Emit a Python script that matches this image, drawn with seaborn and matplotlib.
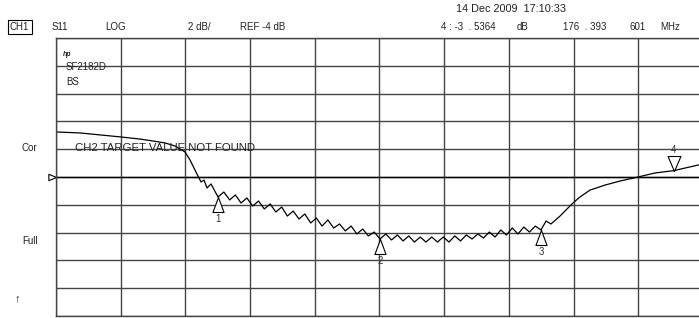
import matplotlib
matplotlib.use("Agg")
import matplotlib.pyplot as plt
import seaborn as sns
import pandas as pd
import numpy as np

# Trace (MHz, dB)
freq_mhz = [128.64, 130.49, 133.66, 135.13, 136.14, 137.06, 137.84, 138.61, 139.00, 139.38,
            139.61, 139.85, 140.08, 140.31, 140.62, 141.16, 141.61, 142.06, 142.50, 142.94,
            143.39, 143.84, 144.29, 144.74, 145.19, 145.63, 146.08, 146.52, 146.97, 147.42,
            147.87, 148.32, 148.76, 149.20, 149.65, 150.10, 150.55, 151.00, 151.45, 151.89,
            152.34, 152.78, 153.23, 153.68, 154.13, 154.57, 155.02, 155.46, 155.90, 156.34,
            156.79, 157.23, 157.68, 158.12, 158.57, 159.01, 159.46, 159.90, 160.35, 160.79,
            161.24, 161.68, 162.13, 162.57, 163.01, 163.45, 163.90, 164.34, 164.79, 165.23,
            165.68, 166.12, 166.51, 166.89, 167.59, 168.59, 169.13, 169.91, 171.07, 172.23,
            173.62, 174.93, 176.39, 178.64]
s11_db = [-0.76, -0.83, -1.12, -1.27, -1.41, -1.55, -1.77, -2.20, -2.78, -3.50,
          -3.93, -4.36, -4.22, -4.79, -4.50, -5.44, -5.08, -5.65, -5.29, -5.87,
          -5.51, -6.09, -5.73, -6.30, -5.94, -6.52, -6.16, -6.81, -6.45, -7.02,
          -6.66, -7.31, -6.95, -7.53, -7.09, -7.67, -7.38, -7.88, -7.53, -8.10,
          -7.74, -8.24, -7.96, -8.46, -8.10, -8.53, -8.17, -8.60, -8.24, -8.68,
          -8.32, -8.68, -8.32, -8.68, -8.32, -8.68, -8.24, -8.60, -8.17, -8.46,
          -8.10, -8.39, -7.96, -8.32, -7.81, -8.17, -7.67, -8.10, -7.60, -7.96,
          -7.53, -7.81, -7.17, -7.38, -6.81, -5.87, -5.44, -4.94, -4.58, -4.29,
          -4.00, -3.71, -3.54, -3.06]

marker_ids = ["1", "2", "3", "4"]
marker_freq = [141.16, 153.68, 166.12, 176.393601]
marker_db = [-5.44, -8.46, -7.81, -3.5364]

ref_db = -4
db_per_div = 2
f_start, f_stop = 128.64, 178.64

df = pd.DataFrame({"freq": freq_mhz, "db": s11_db})

sns.set_theme(style="white")
plt.rcParams["font.family"] = ["Liberation Sans", "DejaVu Sans"]

W, H = 699, 318
fig = plt.figure(figsize=(W / 100, H / 100), dpi=100)
ax = fig.add_axes([56 / W, 2 / H, 647 / W, 278 / H])

sns.lineplot(data=df, x="freq", y="db", ax=ax, color="black", lw=0.9,
             sort=False, estimator=None)

ax.set_xlim(f_start, f_stop)
ax.set_ylim(ref_db - 5 * db_per_div, ref_db + 5 * db_per_div)
ax.set_xticks(np.linspace(f_start, f_stop, 11))
ax.set_yticks(np.arange(ref_db - 10, ref_db + 11, db_per_div))
ax.grid(True, color="#444444", lw=1.0)
ax.tick_params(length=0, labelbottom=False, labelleft=False)
ax.set_xlabel("")
ax.set_ylabel("")
for sp in ax.spines.values():
    sp.set_color("#444444")
    sp.set_linewidth(1.0)
ax.axhline(ref_db, color="black", lw=1.0)

# marker triangles: apex on the trace
up_tri = [(0, 0), (-0.37, -1), (0.37, -1), (0, 0)]
down_tri = [(0, 0), (-0.43, 1), (0.43, 1), (0, 0)]
for mid, mf, md in zip(marker_ids, marker_freq, marker_db):
    if mid == "4":
        ax.plot(mf, md, marker=down_tri, ms=21.6, mfc="white", mec="black", mew=0.8)
        ax.annotate(mid, (mf, md), xytext=(0, 15), textcoords="offset points",
                    ha="center", va="center", fontsize=7, color="#333333")
    else:
        ax.plot(mf, md, marker=up_tri, ms=21.6, mfc="white", mec="black", mew=0.8)
        ax.annotate(mid, (mf, md), xytext=(0, -16), textcoords="offset points",
                    ha="center", va="center", fontsize=7, color="#333333")

# reference position arrow on the left edge
ax.plot(f_start, ref_db, marker=[(0, 0), (-1, 0.42), (-1, -0.42), (0, 0)], ms=11,
        mfc="white", mec="black", mew=0.8, clip_on=False)


def ftext(x, y, s, **kw):
    kw.setdefault("fontsize", 7)
    kw.setdefault("va", "center")
    kw.setdefault("color", "#222222")
    fig.text(x / W, 1 - y / H, s, **kw)


ftext(511, 9, "14 Dec 2009  17:10:33", fontsize=7.8, ha="center")
ftext(10, 27, "CH1", fontsize=7,
      bbox=dict(boxstyle="square,pad=0.25", fc="white", ec="black", lw=0.8))
ftext(52, 27, "S11")
ftext(105, 27, "LOG")
ftext(188, 27, "2 dB/")
ftext(240, 27, "REF -4 dB")
ftext(441, 27, "4 : -3  . 5364")
ftext(517, 27, "dB")
ftext(563, 27, "176  . 393")
ftext(630, 27, "601")
ftext(660, 27, "MHz")

ftext(63, 55, "hp", fontsize=5, style="italic", weight="bold")
ftext(66, 67, "SF2182D")
ftext(66, 82, "BS")

ftext(22, 148, "Cor")
ftext(22, 241, "Full")
ftext(15, 298, "\u2191", fontsize=8, weight="bold")

ftext(75, 148, "CH2 TARGET VALUE NOT FOUND", fontsize=8.2)

fig.savefig("out.png", dpi=100)
